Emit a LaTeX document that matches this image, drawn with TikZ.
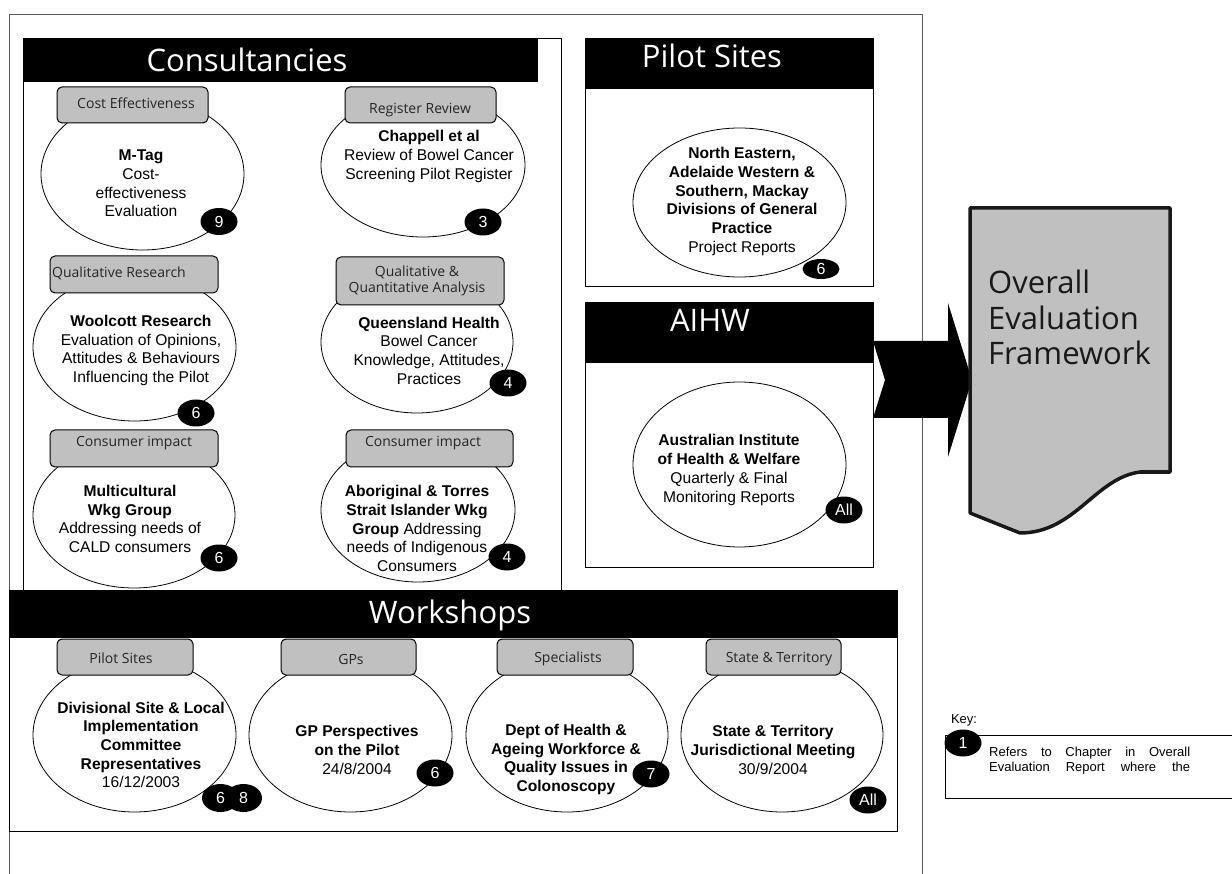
\documentclass[tikz,border=0pt]{standalone}
\usepackage{fontspec}
\setmainfont{Liberation Sans}
\newfontfamily\osans{Open Sans}
\usetikzlibrary{shapes.geometric}
\definecolor{lblgray}{HTML}{C0C0C0}
\definecolor{framegray}{HTML}{5A5A5A}
\newcommand\bodyfont{\fontsize{15.6}{18.7}\selectfont}
\newcommand\labelfont{\osans\fontsize{14}{16}\selectfont}
\newcommand\hdrfont{\osans\fontsize{31}{35.5}\selectfont}
\newcommand\badgefont{\fontsize{16}{16}\selectfont}
\newcommand\keyfont{\fontsize{13}{15}\selectfont}
\tikzset{
  ell/.style={draw, ellipse, line width=0.8pt, fill=white, inner sep=0pt},
  lbl/.style={draw, rounded corners=5pt, fill=lblgray, line width=1pt, inner sep=0pt},
  lbltxt/.style={font=\labelfont, text=black!85, inner sep=0pt},
  body/.style={font=\bodyfont, align=center, inner sep=0pt},
  badge/.style={ellipse, fill=black, text=white, font=\badgefont, inner sep=0pt, minimum width=37, minimum height=27},
  hdr/.style={font=\hdrfont, text=white, inner sep=0pt, anchor=base},
  boxline/.style={draw=black, line width=0.9pt},
}
\begin{document}
\begin{tikzpicture}[x=1pt,y=-1pt]
\useasboundingbox[fill=white] (0,0) rectangle (1232,874);

% outer frame
\draw[framegray, line width=1pt] (9,874) -- (9,15) -- (922,15) -- (922,874);

% ---------- Consultancies ----------
\draw[boxline, fill=white] (23,38) rectangle (561,590);
\fill[black] (23,38) rectangle (538,82);
\node[hdr] (conshdr) at (247,72) {Consultancies};

% row 1
\node[ell, minimum width=203, minimum height=152] (mtag) at (142.5,174) {};
\node[lbl, minimum width=151, minimum height=36] (costlbl) at (132.5,105) {};
\node[lbltxt] (costtxt) at (136,103) {Cost Effectiveness};
\node[body] (mtagtxt) at (141,183.5) {\textbf{M-Tag}\\Cost-\\effectiveness\\Evaluation};
\node[badge] (b9) at (219,221.5) {9};

\node[ell, minimum width=204, minimum height=144] (chap) at (423,165) {};
\node[lbl, minimum width=151, minimum height=36] (reglbl) at (420.5,105) {};
\node[lbltxt] (regtxt) at (420,110) {Register Review};
\node[body] (chaptxt) at (429,156.5) {\textbf{Chappell et al}\\Review of Bowel Cancer\\Screening Pilot Register};
\node[badge] (b3) at (483,222) {3};

% row 2
\node[ell, minimum width=203, minimum height=148] (wool) at (134.5,347) {};
\node[lbl, minimum width=168, minimum height=37] (qrlbl) at (134,274.5) {};
\node[lbltxt, anchor=west] (qrtxt) at (52,273) {Qualitative Research};
\node[body] (wooltxt) at (141,350.5) {\textbf{Woolcott Research}\\Evaluation of Opinions,\\Attitudes \& Behaviours\\Influencing the Pilot};
\node[badge] (b6a) at (196,413) {6};

\node[ell, minimum width=192, minimum height=142] (qld) at (417,342) {};
\node[lbl, minimum width=168, minimum height=48] (qqlbl) at (420,281) {};
\node[lbltxt, align=center] (qqtxt) at (417,281) {Qualitative \&\\Quantitative Analysis};
\node[body] (qldtxt) at (429,350.5) {\textbf{Queensland Health}\\Bowel Cancer\\Knowledge, Attitudes,\\Practices};
\node[badge] (b4a) at (508,383) {4};

% row 3
\node[ell, minimum width=202, minimum height=146] (multi) at (134,515) {};
\node[lbl, minimum width=168, minimum height=37] (ci1lbl) at (134,448.5) {};
\node[lbltxt] (ci1txt) at (134,443) {Consumer impact};
\node[body] (multitxt) at (130,519) {\textbf{Multicultural}\\\textbf{Wkg Group}\\Addressing needs of\\CALD consumers};
\node[badge] (b6b) at (219,558) {6};

\node[ell, minimum width=194, minimum height=144] (abor) at (418,510) {};
\node[lbl, minimum width=167, minimum height=37] (ci2lbl) at (429.5,448.5) {};
\node[lbltxt] (ci2txt) at (423,443) {Consumer impact};
\node[body] (abortxt) at (417,528.5) {\textbf{Aboriginal \& Torres}\\\textbf{Strait Islander Wkg}\\\textbf{Group} Addressing\\needs of Indigenous\\Consumers};
\node[badge] (b4b) at (507,557) {4};

% ---------- Pilot Sites ----------
\draw[boxline, fill=white] (585,38) rectangle (873,286);
\fill[black] (585,38) rectangle (873,89);
\node[hdr] (pilothdr) at (712,68) {Pilot Sites};
\node[ell, minimum width=213, minimum height=149] (pilot) at (739.5,202.5) {};
\node[body] (pilottxt) at (742,201.5) {\textbf{North Eastern,}\\\textbf{Adelaide Western \&}\\\textbf{Southern, Mackay}\\\textbf{Divisions of General}\\\textbf{Practice}\\Project Reports};
\node[badge, minimum width=37, minimum height=20] (b6c) at (821,269) {6};

% ---------- AIHW ----------
\draw[boxline, fill=white] (585,302) rectangle (873,567);
\fill[black] (585,302) rectangle (873,363);
\node[hdr] (aihwhdr) at (710,332) {AIHW};
\node[ell, minimum width=213, minimum height=165] (aihw) at (739.5,464.5) {};
\node[body] (aihwtxt) at (729,470) {\textbf{Australian Institute}\\\textbf{of Health \& Welfare}\\Quarterly \& Final\\Monitoring Reports};
\node[badge] (ball1) at (844,510) {All};

% ---------- big arrow ----------
\fill[black] (873,341) -- (948,341) -- (948,303) -- (972,380) -- (948,457) -- (948,418) -- (873,418) -- (885,380) -- cycle;

% ---------- Overall Evaluation Framework ----------
\draw[line width=3.5pt, draw=black!90, fill=lblgray, line join=round]
  (970,208) -- (1170,208) -- (1170,472) -- (1140,472)
  .. controls (1095,478) and (1075,533) .. (1020,533) -- (970,513) -- cycle;
\node[font=\hdrfont, align=left, anchor=north west, inner sep=0pt, text=black!90] (oef) at (988,270) {Overall\\Evaluation\\Framework};

% ---------- Workshops ----------
\draw[boxline, fill=white] (9,590) rectangle (897,831);
\fill[black] (9,590) rectangle (897,638);
\node[hdr] (wshdr) at (450,623) {Workshops};

\node[ell, minimum width=203, minimum height=154] (w1) at (134.5,735) {};
\node[lbl, minimum width=136, minimum height=36] (w1lbl) at (125,657) {};
\node[lbltxt] (w1lt) at (121,658) {Pilot Sites};
\node[body] (w1txt) at (141,745) {\textbf{Divisional Site \& Local}\\\textbf{Implementation}\\\textbf{Committee}\\\textbf{Representatives}\\16/12/2003};
\node[badge, minimum height=28] (b6d) at (220.5,798) {6};
\node[badge, minimum height=28] (b8) at (243.5,798) {8};

\node[ell, minimum width=203, minimum height=154] (w2) at (350.5,735) {};
\node[lbl, minimum width=135, minimum height=36] (w2lbl) at (348.5,657) {};
\node[lbltxt] (w2lt) at (351,659) {GPs};
\node[body] (w2txt) at (357,750) {\textbf{GP Perspectives}\\\textbf{on the Pilot}\\24/8/2004};
\node[badge] (b6e) at (435,773) {6};

\node[ell, minimum width=202, minimum height=154] (w3) at (567,735) {};
\node[lbl, minimum width=136, minimum height=36] (w3lbl) at (565,657) {};
\node[lbltxt] (w3lt) at (568,659) {Specialists};
\node[body] (w3txt) at (566,759.5) {\textbf{Dept of Health \&}\\\textbf{Ageing Workforce \&}\\\textbf{Quality Issues in}\\\textbf{Colonoscopy}};
\node[badge] (b7) at (651,774) {7};

\node[ell, minimum width=202, minimum height=154] (w4) at (782,735) {};
\node[lbl, minimum width=135, minimum height=36] (w4lbl) at (773.5,657) {};
\node[lbltxt] (w4lt) at (779,659) {State \& Territory};
\node[body] (w4txt) at (773,750) {\textbf{State \& Territory}\\\textbf{Jurisdictional Meeting}\\30/9/2004};
\node[badge] (ball2) at (868,800) {All};

% ---------- Key ----------
\node[font=\keyfont, anchor=base, inner sep=0pt] (keyt) at (964,723) {Key:};
\draw[line width=1pt] (1234,735) -- (945,735) -- (945,798) -- (1234,798);
\node[badge, minimum width=37, minimum height=27] (b1) at (963,743) {1};
\node[font=\keyfont, anchor=base west, inner sep=0pt] (keyl1) at (989,756) {\makebox[201pt][s]{Refers to Chapter in Overall}};
\node[font=\keyfont, anchor=base west, inner sep=0pt] (keyl2) at (989,771) {\makebox[201pt][s]{Evaluation Report where the}};
\end{tikzpicture}
\end{document}
